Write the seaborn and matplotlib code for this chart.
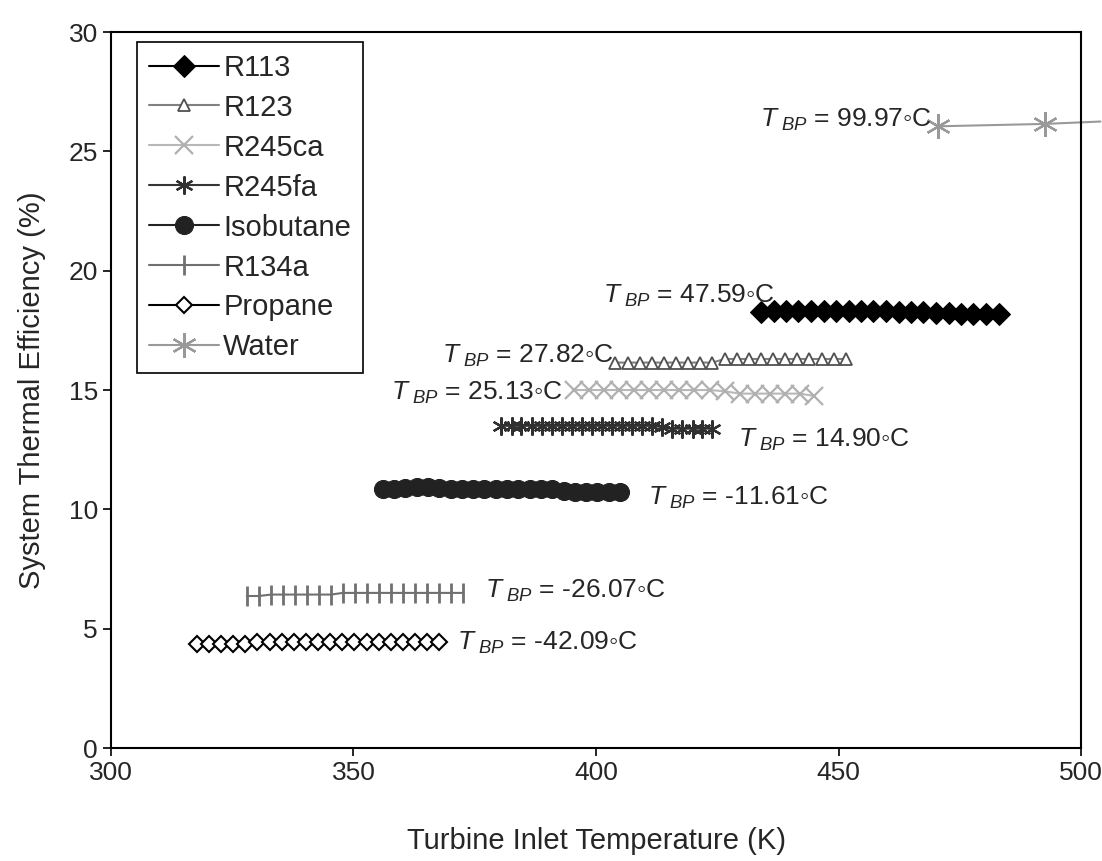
import numpy as np
import pandas as pd
import matplotlib
matplotlib.use("Agg")
import matplotlib.pyplot as plt
import seaborn as sns

# turbine inlet temperature (K) and system thermal efficiency (%) per fluid
r113_t = [434, 436.6, 439.2, 441.7, 444.3, 446.9, 449.5, 452.1, 454.6, 457.2,
          459.8, 462.4, 464.9, 467.5, 470.1, 472.7, 475.3, 477.8, 480.4, 483]
r113_eff = [18.25, 18.32, 18.32, 18.32, 18.32, 18.32, 18.32, 18.3, 18.3, 18.3,
            18.3, 18.28, 18.28, 18.26, 18.22, 18.22, 18.2, 18.2, 18.2, 18.2]

r123_t = [404, 406.5, 409, 411.5, 414, 416.5, 419, 421.5, 424, 426.5,
          429, 431.5, 434, 436.5, 439, 441.5, 444, 446.5, 449, 451.5]
r123_eff = [16.15, 16.15, 16.15, 16.15, 16.15, 16.15, 16.15, 16.15, 16.15, 16.3,
            16.3, 16.3, 16.3, 16.3, 16.3, 16.3, 16.3, 16.3, 16.3, 16.3]

r245ca_t = [395.5, 398.6, 401.7, 404.8, 407.9, 411, 414.1, 417.2, 420.3,
            423.4, 426.5, 429.6, 432.7, 435.8, 438.9, 442, 445]
r245ca_eff = [15.0, 15.0, 15.0, 15.0, 15.0, 15.0, 15.0, 15.0, 15.0,
              15.0, 14.95, 14.85, 14.85, 14.85, 14.85, 14.85, 14.75]

r245fa_t = [380.5, 382.6, 384.6, 386.7, 388.8, 390.9, 392.9, 395, 397.1, 399.1, 401.2,
            403.3, 405.4, 407.4, 409.5, 411.6, 413.6, 415.7, 417.8, 419.9, 421.9, 424]
r245fa_eff = [13.5, 13.5, 13.5, 13.5, 13.5, 13.5, 13.5, 13.5, 13.5, 13.5, 13.5,
              13.5, 13.5, 13.5, 13.5, 13.5, 13.45, 13.38, 13.38, 13.38, 13.38, 13.38]

isobutane_t = [356, 358.3, 360.7, 363, 365.3, 367.7, 370, 372.3, 374.7, 377, 379.3,
               381.7, 384, 386.3, 388.7, 391, 393.3, 395.7, 398, 400.3, 402.7, 405]
isobutane_eff = [10.85, 10.85, 10.88, 10.95, 10.95, 10.88, 10.87, 10.87, 10.86, 10.86, 10.86,
                 10.85, 10.85, 10.85, 10.85, 10.85, 10.75, 10.73, 10.73, 10.73, 10.73, 10.73]

r134a_t = [328, 330.5, 333, 335.4, 337.9, 340.4, 342.9, 345.4, 347.8, 350.3,
           352.8, 355.3, 357.8, 360.2, 362.7, 365.2, 367.7, 370.2, 372.6]
r134a_eff = [6.37, 6.37, 6.43, 6.43, 6.43, 6.43, 6.43, 6.43, 6.5, 6.5,
             6.5, 6.5, 6.5, 6.5, 6.5, 6.5, 6.5, 6.5, 6.5]

propane_t = [317.7, 320.2, 322.7, 325.2, 327.7, 330.2, 332.7, 335.2, 337.7, 340.2, 342.7,
             345.2, 347.7, 350.2, 352.7, 355.2, 357.7, 360.2, 362.7, 365.2, 367.7]
propane_eff = [4.35, 4.35, 4.35, 4.35, 4.35, 4.45, 4.45, 4.45, 4.45, 4.45, 4.45,
               4.45, 4.45, 4.45, 4.45, 4.45, 4.45, 4.45, 4.45, 4.45, 4.45]

water_t = [470.5, 492.5, 504]
water_eff = [26.05, 26.15, 26.25]

# boiling point labels: text, x, y
bp_labels = ["99.97", "47.59", "27.82", "25.13", "14.90", "-11.61", "-26.07", "-42.09"]
bp_x = [433.8, 401.4, 368.2, 357.7, 429.3, 410.7, 377.1, 371.3]
bp_y = [26.3, 18.95, 16.45, 14.87, 12.9, 10.47, 6.6, 4.4]

sns.set_style("ticks")
plt.rcParams["font.family"] = ["Liberation Sans", "DejaVu Sans"]
plt.rcParams["mathtext.fontset"] = "custom"
plt.rcParams["mathtext.rm"] = "Liberation Sans"
plt.rcParams["mathtext.it"] = "Liberation Sans:italic"

fig, ax = plt.subplots(figsize=(11.02, 8.61), dpi=100)
fig.subplots_adjust(left=0.1007, right=0.981, top=0.9628, bottom=0.1312)

series = [
    ("R113", r113_t, r113_eff, dict(color="black", marker="D", markersize=11,
                                    markeredgecolor="black")),
    ("R123", r123_t, r123_eff, dict(color="#808080", marker="^", markersize=9,
                                    markerfacecolor="white", markeredgecolor="#505050",
                                    markeredgewidth=1.3)),
    ("R245ca", r245ca_t, r245ca_eff, dict(color="#b8b8b8", marker="x", markersize=13,
                                          markeredgecolor="#b0b0b0", markeredgewidth=1.6)),
    ("R245fa", r245fa_t, r245fa_eff, dict(color="#353535", marker=(6, 2, 0), markersize=13,
                                          markeredgecolor="#303030", markeredgewidth=1.6)),
    ("Isobutane", isobutane_t, isobutane_eff, dict(color="#222222", marker="o", markersize=13,
                                                   markeredgecolor="#222222")),
    ("R134a", r134a_t, r134a_eff, dict(color="#707070", marker="|", markersize=14,
                                       markeredgecolor="#707070", markeredgewidth=2)),
    ("Propane", propane_t, propane_eff, dict(color="black", marker="D", markersize=8,
                                             markerfacecolor="white", markeredgecolor="black",
                                             markeredgewidth=1.5)),
]

for name, t, eff, kw in series:
    sns.lineplot(x=t, y=eff, ax=ax, label=name, sort=False, lw=1.5, **kw)

# water line runs past the right axis edge
sns.lineplot(x=water_t, y=water_eff, ax=ax, label="Water", sort=False, color="#999999",
             marker=(6, 2, 0), markersize=18, markeredgecolor="#999999",
             markeredgewidth=1.6, lw=1.5, markevery=[0, 1], clip_on=False)

for lab, x, y in zip(bp_labels, bp_x, bp_y):
    ax.text(x, y, r"$T_{\ BP}$ = " + lab + "◦C", fontsize=19, ha="left", va="center")

ax.set_xlim(300, 500)
ax.set_ylim(0, 30)
ax.set_xticks([300, 350, 400, 450, 500])
ax.set_yticks([0, 5, 10, 15, 20, 25, 30])
ax.tick_params(labelsize=19, direction="out", length=6, width=1.2, color="black")
ax.set_xlabel("Turbine Inlet Temperature (K)", fontsize=21, labelpad=30)
ax.set_ylabel("System Thermal Efficiency (%)", fontsize=21, labelpad=16)
for s in ax.spines.values():
    s.set_visible(True)
    s.set_color("black")
    s.set_linewidth(1.5)

leg = ax.legend(loc="upper left", bbox_to_anchor=(0.027, 0.986), fontsize=21,
                frameon=True, fancybox=False, edgecolor="black", framealpha=1,
                handlelength=2.4, handletextpad=0.15, borderpad=0.4, labelspacing=0.41,
                borderaxespad=0)
leg.get_frame().set_linewidth(1.2)

fig.savefig("out.png", dpi=100)
